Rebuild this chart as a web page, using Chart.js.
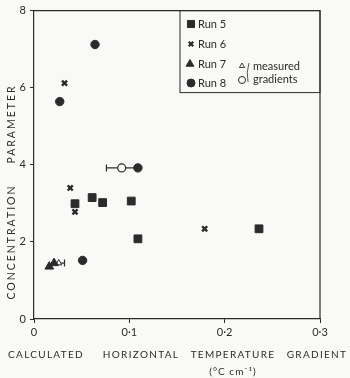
<!DOCTYPE html>
<html>
<head>
<meta charset="utf-8">
<script src="https://cdn.jsdelivr.net/npm/chart.js@4/dist/chart.umd.min.js"></script>
<style>
  body { margin: 0; background: #f9f9f7; }
  #wrap { width: 350px; height: 378px; position: relative; }
</style>
</head>
<body>
<div id="wrap"><canvas id="chart"></canvas></div>
<script>
// values
const run5X = [0.043, 0.061, 0.072, 0.102, 0.109, 0.236];
const run5Y = [2.99, 3.15, 3.02, 3.06, 2.08, 2.34];
const run6X = [0.032, 0.038, 0.043, 0.179];
const run6Y = [6.12, 3.40, 2.78, 2.34];
const run7X = [0.016, 0.021];
const run7Y = [1.36, 1.45];
const run8X = [0.064, 0.027, 0.109, 0.051];
const run8Y = [7.12, 5.64, 3.92, 1.52];
// measured gradients with their ranges
const measTriX = [0.026];
const measTriY = [1.45];
const measTriRange = [0.021, 0.032];
const measCircX = [0.092];
const measCircY = [3.92];
const measCircRange = [0.076, 0.109];

const xTickLabels = ['0', '0·1', '0·2', '0·3'];
const yTickLabels = ['0', '2', '4', '6', '8'];

const ink = '#2b2b2b';
const paper = '#f9f9f7';
const font = 'Lato';

const pts = (xs, ys) => xs.map((x, i) => ({ x: x, y: ys[i] }));

const markerSet = (label, xs, ys, style, radius, filled, width) => ({
  label: label,
  data: pts(xs, ys),
  pointStyle: style,
  pointRadius: radius,
  pointHoverRadius: radius,
  pointBackgroundColor: filled ? ink : paper,
  pointBorderColor: ink,
  pointBorderWidth: width,
  order: 0,
});

const errorBar = (range, y, capFirst) => ({
  label: 'range',
  data: [{ x: range[0], y: y }, { x: range[1], y: y }],
  showLine: true,
  borderColor: ink,
  borderWidth: 1.2,
  pointStyle: 'line',
  rotation: 90,
  pointRadius: capFirst ? [3.5, 0] : [0, 3.5],
  pointBorderColor: ink,
  pointBorderWidth: 1.2,
  order: 10,
});

// frame, legend box and axis titles
const decorPlugin = {
  id: 'decor',
  afterDraw(chart) {
    const { ctx, chartArea: a } = chart;
    ctx.save();
    ctx.strokeStyle = ink;
    ctx.fillStyle = ink;
    ctx.lineWidth = 1.2;
    ctx.beginPath();
    ctx.moveTo(a.left, a.top);
    ctx.lineTo(a.right, a.top);
    ctx.lineTo(a.right, a.bottom);
    ctx.stroke();

    // legend
    const lx = a.left + 146;
    const ly = a.top;
    ctx.lineWidth = 1;
    ctx.strokeRect(lx, ly, a.right - lx, 82);
    const draw = Chart.helpers.drawPoint;
    const item = (style, r, fill, bw, x, y) => {
      ctx.fillStyle = fill;
      ctx.strokeStyle = ink;
      ctx.lineWidth = bw;
      draw(ctx, { pointStyle: style, radius: r, borderWidth: bw }, x, y);
    };
    item('rect', 5, ink, 1, 191, 24);
    item('crossRot', 3.2, ink, 2.3, 191, 44);
    item('triangle', 4.5, ink, 1, 190, 64);
    item('circle', 4, ink, 1, 191, 83);
    item('triangle', 3, paper, 0.9, 242, 66);
    item('circle', 3.5, paper, 1, 242, 80);
    ctx.fillStyle = ink;
    ctx.font = '11px ' + font;
    ctx.textBaseline = 'middle';
    ctx.textAlign = 'left';
    ctx.fillText('Run 5', 198, 24);
    ctx.fillText('Run 6', 198, 44);
    ctx.fillText('Run 7', 198, 64);
    ctx.fillText('Run 8', 198, 83);
    ctx.fillText('measured', 253, 66);
    ctx.fillText('gradients', 253, 79);
    ctx.lineWidth = 0.8;
    ctx.beginPath();
    ctx.moveTo(249, 63);
    ctx.quadraticCurveTo(246, 72, 248, 82);
    ctx.stroke();

    // axis titles
    ctx.font = '10px ' + font;
    ctx.letterSpacing = '1.3px';
    ctx.textAlign = 'center';
    ctx.fillText('CALCULATED', 46, 355);
    ctx.fillText('HORIZONTAL', 141, 355);
    ctx.fillText('TEMPERATURE', 233, 355);
    ctx.fillText('GRADIENT', 317, 355);
    ctx.letterSpacing = '1px';
    ctx.fillText('(°C cm⁻¹)', 233, 372);

    ctx.translate(12, 0);
    ctx.rotate(-Math.PI / 2);
    ctx.letterSpacing = '2px';
    ctx.font = '10.5px ' + font;
    ctx.fillText('CONCENTRATION', -242, 0);
    ctx.fillText('PARAMETER', -124, 0);
    ctx.restore();
  },
};

new Chart(document.getElementById('chart'), {
  type: 'scatter',
  data: {
    datasets: [
      errorBar(measCircRange, measCircY[0], true),
      errorBar(measTriRange, measTriY[0], false),
      markerSet('Run 5', run5X, run5Y, 'rect', 5.5, true, 1),
      markerSet('Run 6', run6X, run6Y, 'crossRot', 3.6, true, 2.4),
      markerSet('Run 7', run7X, run7Y, 'triangle', 5, true, 1),
      markerSet('Run 8', run8X, run8Y, 'circle', 4.2, true, 1),
      markerSet('measured', measTriX, measTriY, 'triangle', 3.5, false, 1),
      markerSet('measured', measCircX, measCircY, 'circle', 4, false, 1.2),
    ],
  },
  options: {
    responsive: true,
    maintainAspectRatio: false,
    animation: false,
    events: [],
    layout: { padding: { top: 10, right: 30, left: 0, bottom: 0 } },
    plugins: {
      legend: { display: false },
      tooltip: { enabled: false },
    },
    scales: {
      x: {
        type: 'linear',
        min: 0,
        max: 0.3,
        afterFit: (s) => { s.height = 59; },
        ticks: {
          stepSize: 0.1,
          color: ink,
          padding: 3,
          maxRotation: 0,
          font: { family: font, size: 11 },
          callback: (v, i) => xTickLabels[i],
        },
        grid: { drawOnChartArea: false, drawTicks: true, tickLength: 4, color: ink },
        border: { color: ink, width: 1.2 },
      },
      y: {
        min: 0,
        max: 8,
        afterFit: (s) => { s.width = 34; },
        ticks: {
          stepSize: 2,
          color: ink,
          padding: 4,
          font: { family: font, size: 11 },
          callback: (v, i) => yTickLabels[i],
        },
        grid: { drawOnChartArea: false, drawTicks: true, tickLength: 4, color: ink },
        border: { color: ink, width: 1.2 },
      },
    },
  },
  plugins: [decorPlugin],
});
</script>
</body>
</html>
